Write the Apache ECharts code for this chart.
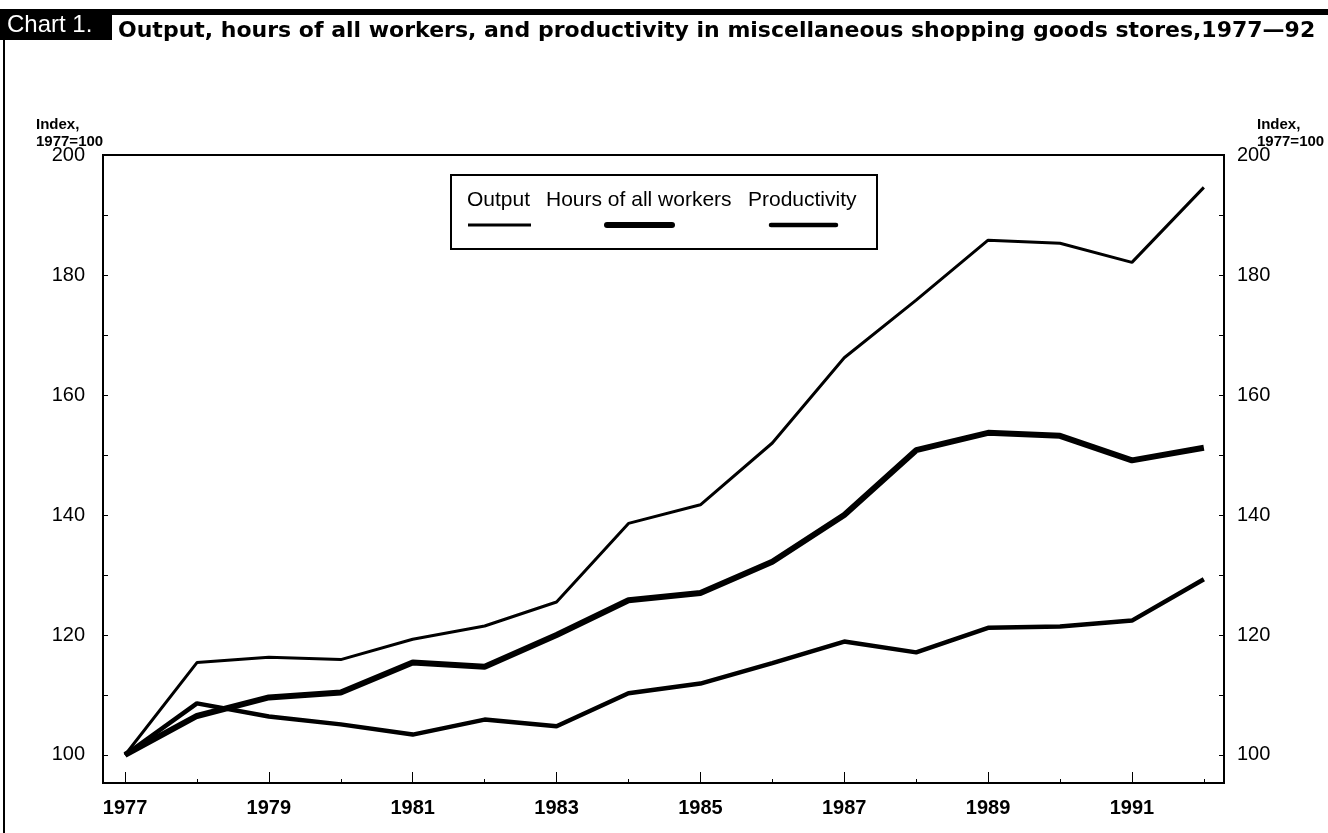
<!DOCTYPE html>
<html>
<head>
<meta charset="utf-8">
<script src="https://cdn.jsdelivr.net/npm/echarts@6/dist/echarts.min.js"></script>
<style>
html,body{margin:0;padding:0;background:#fff;}
#c{width:1328px;height:833px;}
</style>
</head>
<body>
<div id="c"></div>
<script>
const years = [1977,1978,1979,1980,1981,1982,1983,1984,1985,1986,1987,1988,1989,1990,1991,1992];
const output = [100,115.4,116.3,115.9,119.3,121.5,125.5,138.6,141.7,152.0,166.2,175.8,185.8,185.3,182.1,194.6];
const hours = [100,106.5,109.6,110.4,115.4,114.7,120.0,125.8,127.0,132.2,140.0,150.8,153.7,153.2,149.1,151.2];
const productivity = [100,108.6,106.4,105.1,103.4,105.9,104.8,110.3,111.9,115.3,118.9,117.1,121.2,121.4,122.4,129.3];
const xLabelYears = [1977,1979,1981,1983,1985,1987,1989,1991];
const xMinorYears = [1978,1980,1982,1984,1986,1988,1990,1992];
const yLabels = [100,120,140,160,180,200];
const yTicks = [100,110,120,130,140,150,160,170,180,190,200];
const seriesNames = ['Output','Hours of all workers','Productivity'];

const pairs = arr => years.map((y,i)=>[y,arr[i]]);
const chart = echarts.init(document.getElementById('c'), null, {renderer:'canvas'});

const yAxisBase = (pos, margin) => ({
  type:'value', position:pos, min:95.33, max:200,
  axisLine:{show:true, lineStyle:{color:'#000', width:2}},
  axisTick:{show:true, inside:true, length:5, customValues:yTicks, lineStyle:{color:'#000', width:1}},
  axisLabel:{show:true, customValues:yLabels, margin:margin, color:'#000', fontSize:20, fontFamily:'Liberation Sans, Arial, sans-serif'},
  splitLine:{show:false}
});

chart.setOption({
  animation:false,
  backgroundColor:'#fff',
  grid:{left:103, right:104, top:155, bottom:50, show:true, borderColor:'#000', borderWidth:2, backgroundColor:'transparent'},
  xAxis:[{
    type:'value', min:1976.694, max:1992.28, position:'bottom',
    axisLine:{show:true, lineStyle:{color:'#000', width:2}},
    axisTick:{show:true, inside:true, length:11, customValues:xLabelYears, lineStyle:{color:'#000', width:1}},
    axisLabel:{show:true, customValues:xLabelYears, margin:15, color:'#000', fontSize:20, fontWeight:'bold', fontFamily:'Liberation Sans, Arial, sans-serif', formatter:v=>String(v)},
    splitLine:{show:false}
  },{
    type:'value', min:1976.694, max:1992.28, position:'bottom', gridIndex:0,
    axisLine:{show:false},
    axisTick:{show:true, inside:true, length:4, customValues:xMinorYears, lineStyle:{color:'#000', width:1}},
    axisLabel:{show:false},
    splitLine:{show:false}
  }],
  yAxis:[yAxisBase('left',18), yAxisBase('right',13)],
  series:[
    {name:seriesNames[0], type:'line', data:pairs(output), symbol:'none', lineStyle:{color:'#000', width:3}, xAxisIndex:0, yAxisIndex:0},
    {name:seriesNames[1], type:'line', data:pairs(hours), symbol:'none', lineStyle:{color:'#000', width:6}, xAxisIndex:0, yAxisIndex:0},
    {name:seriesNames[2], type:'line', data:pairs(productivity), symbol:'none', lineStyle:{color:'#000', width:4.5}, xAxisIndex:0, yAxisIndex:0}
  ],
  graphic:[
    {type:'rect', shape:{x:0,y:9,width:1328,height:6}, style:{fill:'#000'}},
    {type:'rect', shape:{x:0,y:9,width:112,height:31}, style:{fill:'#000'}},
    {type:'line', shape:{x1:4,y1:14,x2:4,y2:833}, style:{stroke:'#000', lineWidth:2}},
    {type:'text', x:7, y:25, style:{text:'Chart 1.', fill:'#fff', font:'24px "Liberation Sans", Arial, sans-serif', textVerticalAlign:'middle'}},
    {type:'text', x:118, y:31, style:{text:'Output, hours of all workers, and productivity in miscellaneous shopping goods stores,1977—92', fill:'#000', font:'bold 22px "DejaVu Sans", sans-serif', textVerticalAlign:'middle'}},
    {type:'text', x:36, y:116, style:{text:'Index,\n1977=100', fill:'#000', font:'bold 15px "Liberation Sans", Arial, sans-serif', lineHeight:17}},
    {type:'text', x:1257, y:116, style:{text:'Index,\n1977=100', fill:'#000', font:'bold 15px "Liberation Sans", Arial, sans-serif', lineHeight:17}},
    {type:'rect', shape:{x:451,y:175,width:426,height:74}, style:{fill:'#fff', stroke:'#000', lineWidth:2}},
    {type:'text', x:467, y:200, style:{text:seriesNames[0], fill:'#000', font:'21px "Liberation Sans", Arial, sans-serif', textVerticalAlign:'middle'}},
    {type:'text', x:546, y:200, style:{text:seriesNames[1], fill:'#000', font:'21px "Liberation Sans", Arial, sans-serif', textVerticalAlign:'middle'}},
    {type:'text', x:748, y:200, style:{text:seriesNames[2], fill:'#000', font:'21px "Liberation Sans", Arial, sans-serif', textVerticalAlign:'middle'}},
    {type:'line', shape:{x1:468,y1:225,x2:531,y2:225}, style:{stroke:'#000', lineWidth:3}},
    {type:'line', shape:{x1:607,y1:225,x2:672,y2:225}, style:{stroke:'#000', lineWidth:6, lineCap:'round'}},
    {type:'line', shape:{x1:771,y1:225,x2:836,y2:225}, style:{stroke:'#000', lineWidth:4.5, lineCap:'round'}}
  ]
});
</script>
</body>
</html>
